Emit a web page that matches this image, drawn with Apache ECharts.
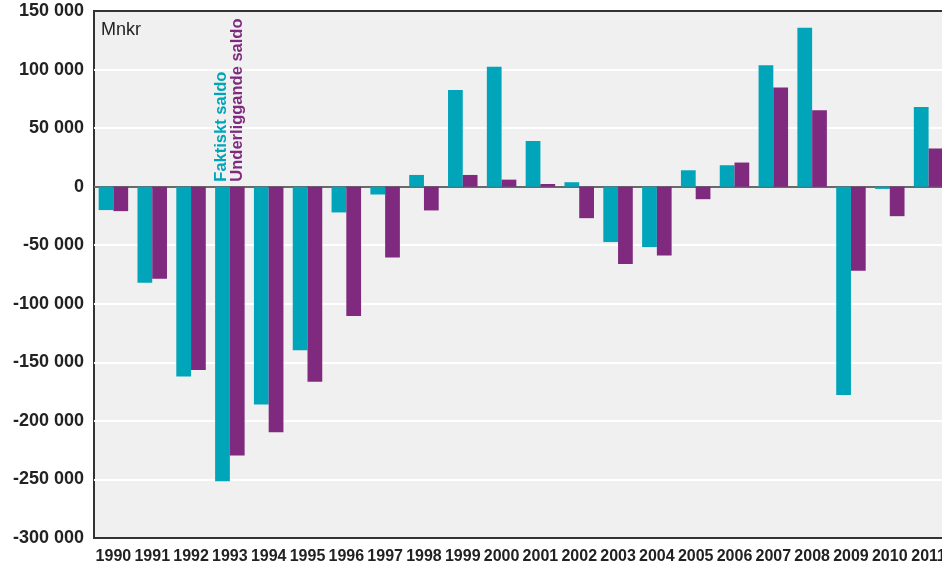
<!DOCTYPE html>
<html>
<head>
<meta charset="utf-8">
<script src="https://cdn.jsdelivr.net/npm/echarts@6/dist/echarts.min.js"></script>
<style>
html,body{margin:0;padding:0;background:#fff;}
#c{width:942px;height:563px;}
</style>
</head>
<body>
<div id="c"></div>
<script>
const years = ['1990','1991','1992','1993','1994','1995','1996','1997','1998','1999','2000','2001','2002','2003','2004','2005','2006','2007','2008','2009','2010','2011'];
const faktisktSaldo = [-20000, -82000, -162000, -251500, -186000, -139700, -22000, -6700, 10000, 82500, 102300, 39000, 3800, -47300, -51600, 14000, 18300, 103600, 135800, -178000, -1900, 68100];
const underliggandeSaldo = [-20900, -78600, -156500, -229600, -209700, -166500, -110400, -60400, -20300, 10000, 6000, 2300, -26900, -66100, -58700, -10700, 20600, 84600, 65300, -71800, -25200, 32600];
const seriesNames = ['Faktiskt saldo', 'Underliggande saldo'];
const unitLabel = 'Mnkr';
const yMin = -300000, yMax = 150000, yStep = 50000;
const annotationYear = '1993';

const FONT = '"Liberation Sans", Arial, sans-serif';
const TEAL = '#00A5B9';
const PURPLE = '#7F2A7F';

function fmt(v){
  const s = String(Math.abs(v)).replace(/\B(?=(\d{3})+(?!\d))/g, ' ');
  return (v < 0 ? '-' : '') + s;
}

const chart = echarts.init(document.getElementById('c'), null, {renderer:'canvas'});
chart.setOption({
  animation:false,
  backgroundColor:'#ffffff',
  grid:{left:94, top:11, right:-6, bottom:25, show:true, backgroundColor:'#f0f0f0', borderColor:'#333', borderWidth:2, containLabel:false, outerBoundsMode:'none'},
  graphic:[{type:'text', left:101, top:21, z:10, style:{text:unitLabel, font:'18px ' + FONT, fill:'#222'}}],
  xAxis:{
    type:'category', data:years,
    axisLine:{show:false}, axisTick:{show:false},
    axisLabel:{interval:0, margin:11, color:'#222', fontSize:16, fontWeight:'bold', fontFamily:FONT}
  },
  yAxis:{
    type:'value', min:yMin, max:yMax, interval:yStep,
    axisLine:{show:false}, axisTick:{show:false},
    splitLine:{show:true, showMinLine:false, showMaxLine:false, lineStyle:{color:'#ffffff', width:2}},
    axisLabel:{margin:10, color:'#222', fontSize:18, fontWeight:'bold', fontFamily:FONT, formatter:fmt}
  },
  series:[
    {
      name:seriesNames[0], type:'bar', data:faktisktSaldo, barGap:'0%', barCategoryGap:'24%',
      itemStyle:{color:TEAL},
      markLine:{silent:true, symbol:'none', z:1, label:{show:false},
        lineStyle:{color:'#6a6a6a', width:2, type:'solid'}, data:[{yAxis:0}]},
      markPoint:{symbolSize:0, silent:true,
        data:[{coord:[annotationYear, 0],
          label:{show:true, formatter:seriesNames[0], rotate:90, align:'left', verticalAlign:'middle', offset:[5,-1],
            color:TEAL, fontSize:16.5, fontWeight:'bold', fontFamily:FONT}}]}
    },
    {
      name:seriesNames[1], type:'bar', data:underliggandeSaldo, barGap:'0%', barCategoryGap:'24%',
      itemStyle:{color:PURPLE},
      markPoint:{symbolSize:0, silent:true,
        data:[{coord:[annotationYear, 0],
          label:{show:true, formatter:seriesNames[1], rotate:90, align:'left', verticalAlign:'middle', offset:[5,0],
            color:PURPLE, fontSize:16.5, fontWeight:'bold', fontFamily:FONT}}]}
    }
  ]
});
</script>
</body>
</html>
